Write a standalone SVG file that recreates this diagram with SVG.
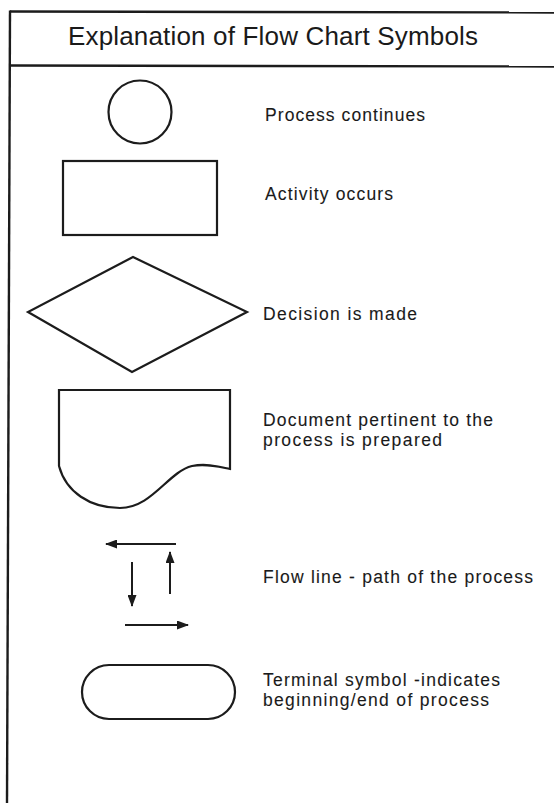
<svg xmlns="http://www.w3.org/2000/svg" width="554" height="803" viewBox="0 0 554 803">
  <style>
    .frame { fill: none; stroke: #1c1c1c; stroke-width: 2.4; }
    .shape { fill: #ffffff; stroke: #1c1c1c; stroke-width: 2.2; stroke-linejoin: miter; }
    .flow { fill: none; stroke: #1c1c1c; stroke-width: 2; }
    .title { font-family: "Liberation Sans", Arial, sans-serif; font-size: 26px; fill: #1a1a1a; }
    .label { font-family: "Liberation Sans", Arial, sans-serif; font-size: 17.5px; fill: #1a1a1a; stroke: #1a1a1a; stroke-width: 0.1; }
  </style>
  <defs>
    <marker id="head" viewBox="0 0 12 9" refX="11" refY="4.5" markerWidth="12" markerHeight="9" markerUnits="userSpaceOnUse" orient="auto">
      <path d="M0,0 L12,4.5 L0,9 Z" fill="#1c1c1c"/>
    </marker>
  </defs>

  <rect width="554" height="803" fill="#ffffff"/>

  <!-- legend frame and title band -->
  <g id="frame">
    <line class="frame" x1="10" y1="11.5" x2="554" y2="12.5"/>
    <line class="frame" x1="10" y1="65.5" x2="554" y2="66.5"/>
    <line class="frame" x1="10" y1="10.5" x2="7" y2="803"/>
    <text class="title" x="273" y="45" text-anchor="middle" textLength="410" lengthAdjust="spacing">Explanation of Flow Chart Symbols</text>
  </g>

  <!-- connector symbol -->
  <g id="circle-symbol">
    <circle class="shape" cx="140" cy="112" r="31.5"/>
    <text class="label" x="265" y="121" textLength="160" lengthAdjust="spacing">Process continues</text>
  </g>

  <!-- activity symbol -->
  <g id="rect-symbol">
    <rect class="shape" x="63" y="161" width="154" height="74"/>
    <text class="label" x="265" y="200" textLength="128" lengthAdjust="spacing">Activity occurs</text>
  </g>

  <!-- decision symbol -->
  <g id="diamond-symbol">
    <polygon class="shape" points="133,257 247,312 132,372 28,312"/>
    <text class="label" x="263" y="320" textLength="154" lengthAdjust="spacing">Decision is made</text>
  </g>

  <!-- document symbol -->
  <g id="document-symbol">
    <path class="shape" d="M59,390 H230 V469 C220,467 207,463 192,466 C168,472 152,508 120,508 C90,508 66,492 59,466 Z"/>
    <text class="label" x="263" y="426" textLength="230" lengthAdjust="spacing">Document pertinent to the</text>
    <text class="label" x="263" y="446" textLength="179" lengthAdjust="spacing">process is prepared</text>
  </g>

  <!-- flow line symbol -->
  <g id="flowline-symbol">
    <g id="connectors">
      <line class="flow" x1="176" y1="544" x2="106" y2="544" marker-end="url(#head)"/>
      <line class="flow" x1="132" y1="562" x2="132" y2="606" marker-end="url(#head)"/>
      <line class="flow" x1="170" y1="594" x2="170" y2="552" marker-end="url(#head)"/>
      <line class="flow" x1="125" y1="625" x2="188" y2="625" marker-end="url(#head)"/>
    </g>
    <text class="label" x="263" y="583" textLength="270" lengthAdjust="spacing">Flow line - path of the process</text>
  </g>

  <!-- terminal symbol -->
  <g id="terminal-symbol">
    <rect class="shape" x="82" y="665" width="153" height="54" rx="27" ry="27"/>
    <text class="label" x="263" y="686" textLength="237" lengthAdjust="spacing">Terminal symbol -indicates</text>
    <text class="label" x="263" y="706" textLength="226" lengthAdjust="spacing">beginning/end of process</text>
  </g>
</svg>
